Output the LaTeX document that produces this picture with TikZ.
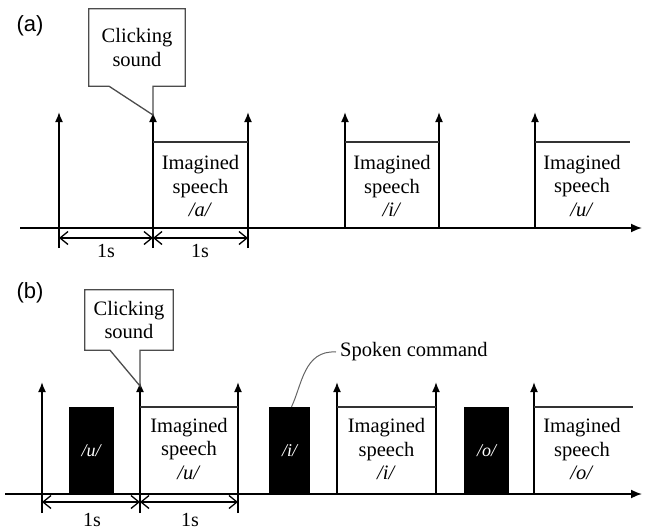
\documentclass[tikz,border=0pt]{standalone}
\usepackage{fontspec}
\setmainfont{Liberation Serif}
\newfontfamily\tagfont{Liberation Sans}
\usetikzlibrary{arrows.meta}
\tikzstyle{tag}=[font=\tagfont\fontsize{22}{26}\selectfont, inner sep=0pt]
\tikzstyle{axis}=[-{Latex[length=11pt,width=9pt]}, line width=1.7pt]
\tikzstyle{pulse}=[-{Latex[length=10pt,width=8pt]}, line width=1.7pt]
\tikzstyle{lid}=[line width=1.7pt, black!80]
\tikzstyle{span}=[{Straight Barb[length=8pt,width=13pt]}-{Straight Barb[length=8pt,width=13pt]}, line width=1.3pt]
\tikzstyle{speech}=[align=center, font=\fontsize{20.5}{23.5}\selectfont, inner sep=0pt]
\tikzstyle{bubble}=[draw=black!70, line width=1.3pt, fill=white, line join=miter]
\tikzstyle{said}=[fill=black, text=white, minimum width=45pt, minimum height=87pt, inner sep=0pt, font=\fontsize{18}{20}\selectfont\itshape]
\tikzstyle{dur}=[font=\fontsize{20}{22}\selectfont, inner sep=0pt]

\begin{document}
\begin{tikzpicture}[x=1pt, y=-1pt]
\useasboundingbox (0,0) rectangle (646,530);

% ---- (a) ----
\node[tag] (taga) at (30,26) {(a)};
\coordinate (la) at (20,228);
\coordinate (ra) at (642,228);
\draw[axis] (la) -- (ra);

\coordinate (a1) at (59,248);  \coordinate (a1t) at (59,112);
\coordinate (a2) at (153,248); \coordinate (a2t) at (153,112);
\coordinate (a3) at (248,248); \coordinate (a3t) at (248,112);
\coordinate (a4) at (345,228); \coordinate (a4t) at (345,112);
\coordinate (a5) at (439,228); \coordinate (a5t) at (439,112);
\coordinate (a6) at (535,228); \coordinate (a6t) at (535,112);
\draw[pulse] (a1) -- (a1t);
\draw[pulse] (a2) -- (a2t);
\draw[pulse] (a3) -- (a3t);
\draw[pulse] (a4) -- (a4t);
\draw[pulse] (a5) -- (a5t);
\draw[pulse] (a6) -- (a6t);

\coordinate (ea) at (630,142);
\draw[lid] (153,142) -- (248,142);
\draw[lid] (345,142) -- (439,142);
\draw[lid] (535,142) -- (ea);

\node[speech] (ia) at (200.5,186) {Imagined\\speech\\\textit{/a/}};
\node[speech] (ii) at (392,186) {Imagined\\speech\\\textit{/i/}};
\node[speech] (iu) at (582,186) {Imagined\\speech\\\textit{/u/}};

\coordinate (da1) at (59,238); \coordinate (da2) at (153,238); \coordinate (da3) at (248,238);
\draw[span] (da1) -- (da2);
\draw[span] (da2) -- (da3);
\node[dur] (sa1) at (106,251) {1s};
\node[dur] (sa2) at (200,251) {1s};

\node[speech, minimum width=96pt, minimum height=77pt] (clicka) at (137,47.5) {Clicking\\sound};
\draw[bubble] (clicka.north west) -- (clicka.north east) -- (clicka.south east)
  -- (clicka.south east -| a2t) -- ([yshift=-3pt]a2t) -- (clicka.south west -| 109,0) -- (clicka.south west) -- cycle;
\node[speech] at (clicka) {Clicking\\sound};

% ---- (b) ----
\node[tag] (tagb) at (30,293) {(b)};
\coordinate (lb) at (5,494);
\coordinate (rb) at (642,494);

\node[said] (cu) at (91,450.5) {/u/};
\node[said, minimum width=41pt] (ci) at (289.5,450.5) {/i/};
\node[said] (co) at (486.5,450.5) {/o/};
\draw[axis] (lb) -- (rb);

\coordinate (b1) at (42,513);  \coordinate (b1t) at (42,382);
\coordinate (b2) at (140,513); \coordinate (b2t) at (140,382);
\coordinate (b3) at (238,513); \coordinate (b3t) at (238,382);
\coordinate (b4) at (337,494); \coordinate (b4t) at (337,382);
\coordinate (b5) at (436,494); \coordinate (b5t) at (436,382);
\coordinate (b6) at (534,494); \coordinate (b6t) at (534,382);
\draw[pulse] (b1) -- (b1t);
\draw[pulse] (b2) -- (b2t);
\draw[pulse] (b3) -- (b3t);
\draw[pulse] (b4) -- (b4t);
\draw[pulse] (b5) -- (b5t);
\draw[pulse] (b6) -- (b6t);

\coordinate (eb) at (633,407);
\draw[lid] (140,407) -- (238,407);
\draw[lid] (337,407) -- (436,407);
\draw[lid] (534,407) -- (eb);

\node[speech] (ju) at (189,449) {Imagined\\speech\\\textit{/u/}};
\node[speech] (ji) at (386.5,449) {Imagined\\speech\\\textit{/i/}};
\node[speech] (jo) at (582,449) {Imagined\\speech\\\textit{/o/}};

\coordinate (db1) at (42,502); \coordinate (db2) at (140,502); \coordinate (db3) at (238,502);
\draw[span] (db1) -- (db2);
\draw[span] (db2) -- (db3);
\node[dur] (sb1) at (92,520) {1s};
\node[dur] (sb2) at (190,520) {1s};

\node[speech, minimum width=88pt, minimum height=60pt] (clickb) at (129,320) {Clicking\\sound};
\draw[bubble] (clickb.north west) -- (clickb.north east) -- (clickb.south east)
  -- (clickb.south east -| b2t) -- ([yshift=-4pt]b2t) -- (clickb.south west -| 110,0) -- (clickb.south west) -- cycle;
\node[speech] at (clickb) {Clicking\\sound};

\node[speech, anchor=west, inner sep=4pt] (spk) at (336,352) {Spoken command};
\draw[black!60, line width=1pt] ([xshift=2pt]ci.north) .. controls (302,385) and (304,350) .. (spk.west);
\end{tikzpicture}
\end{document}
